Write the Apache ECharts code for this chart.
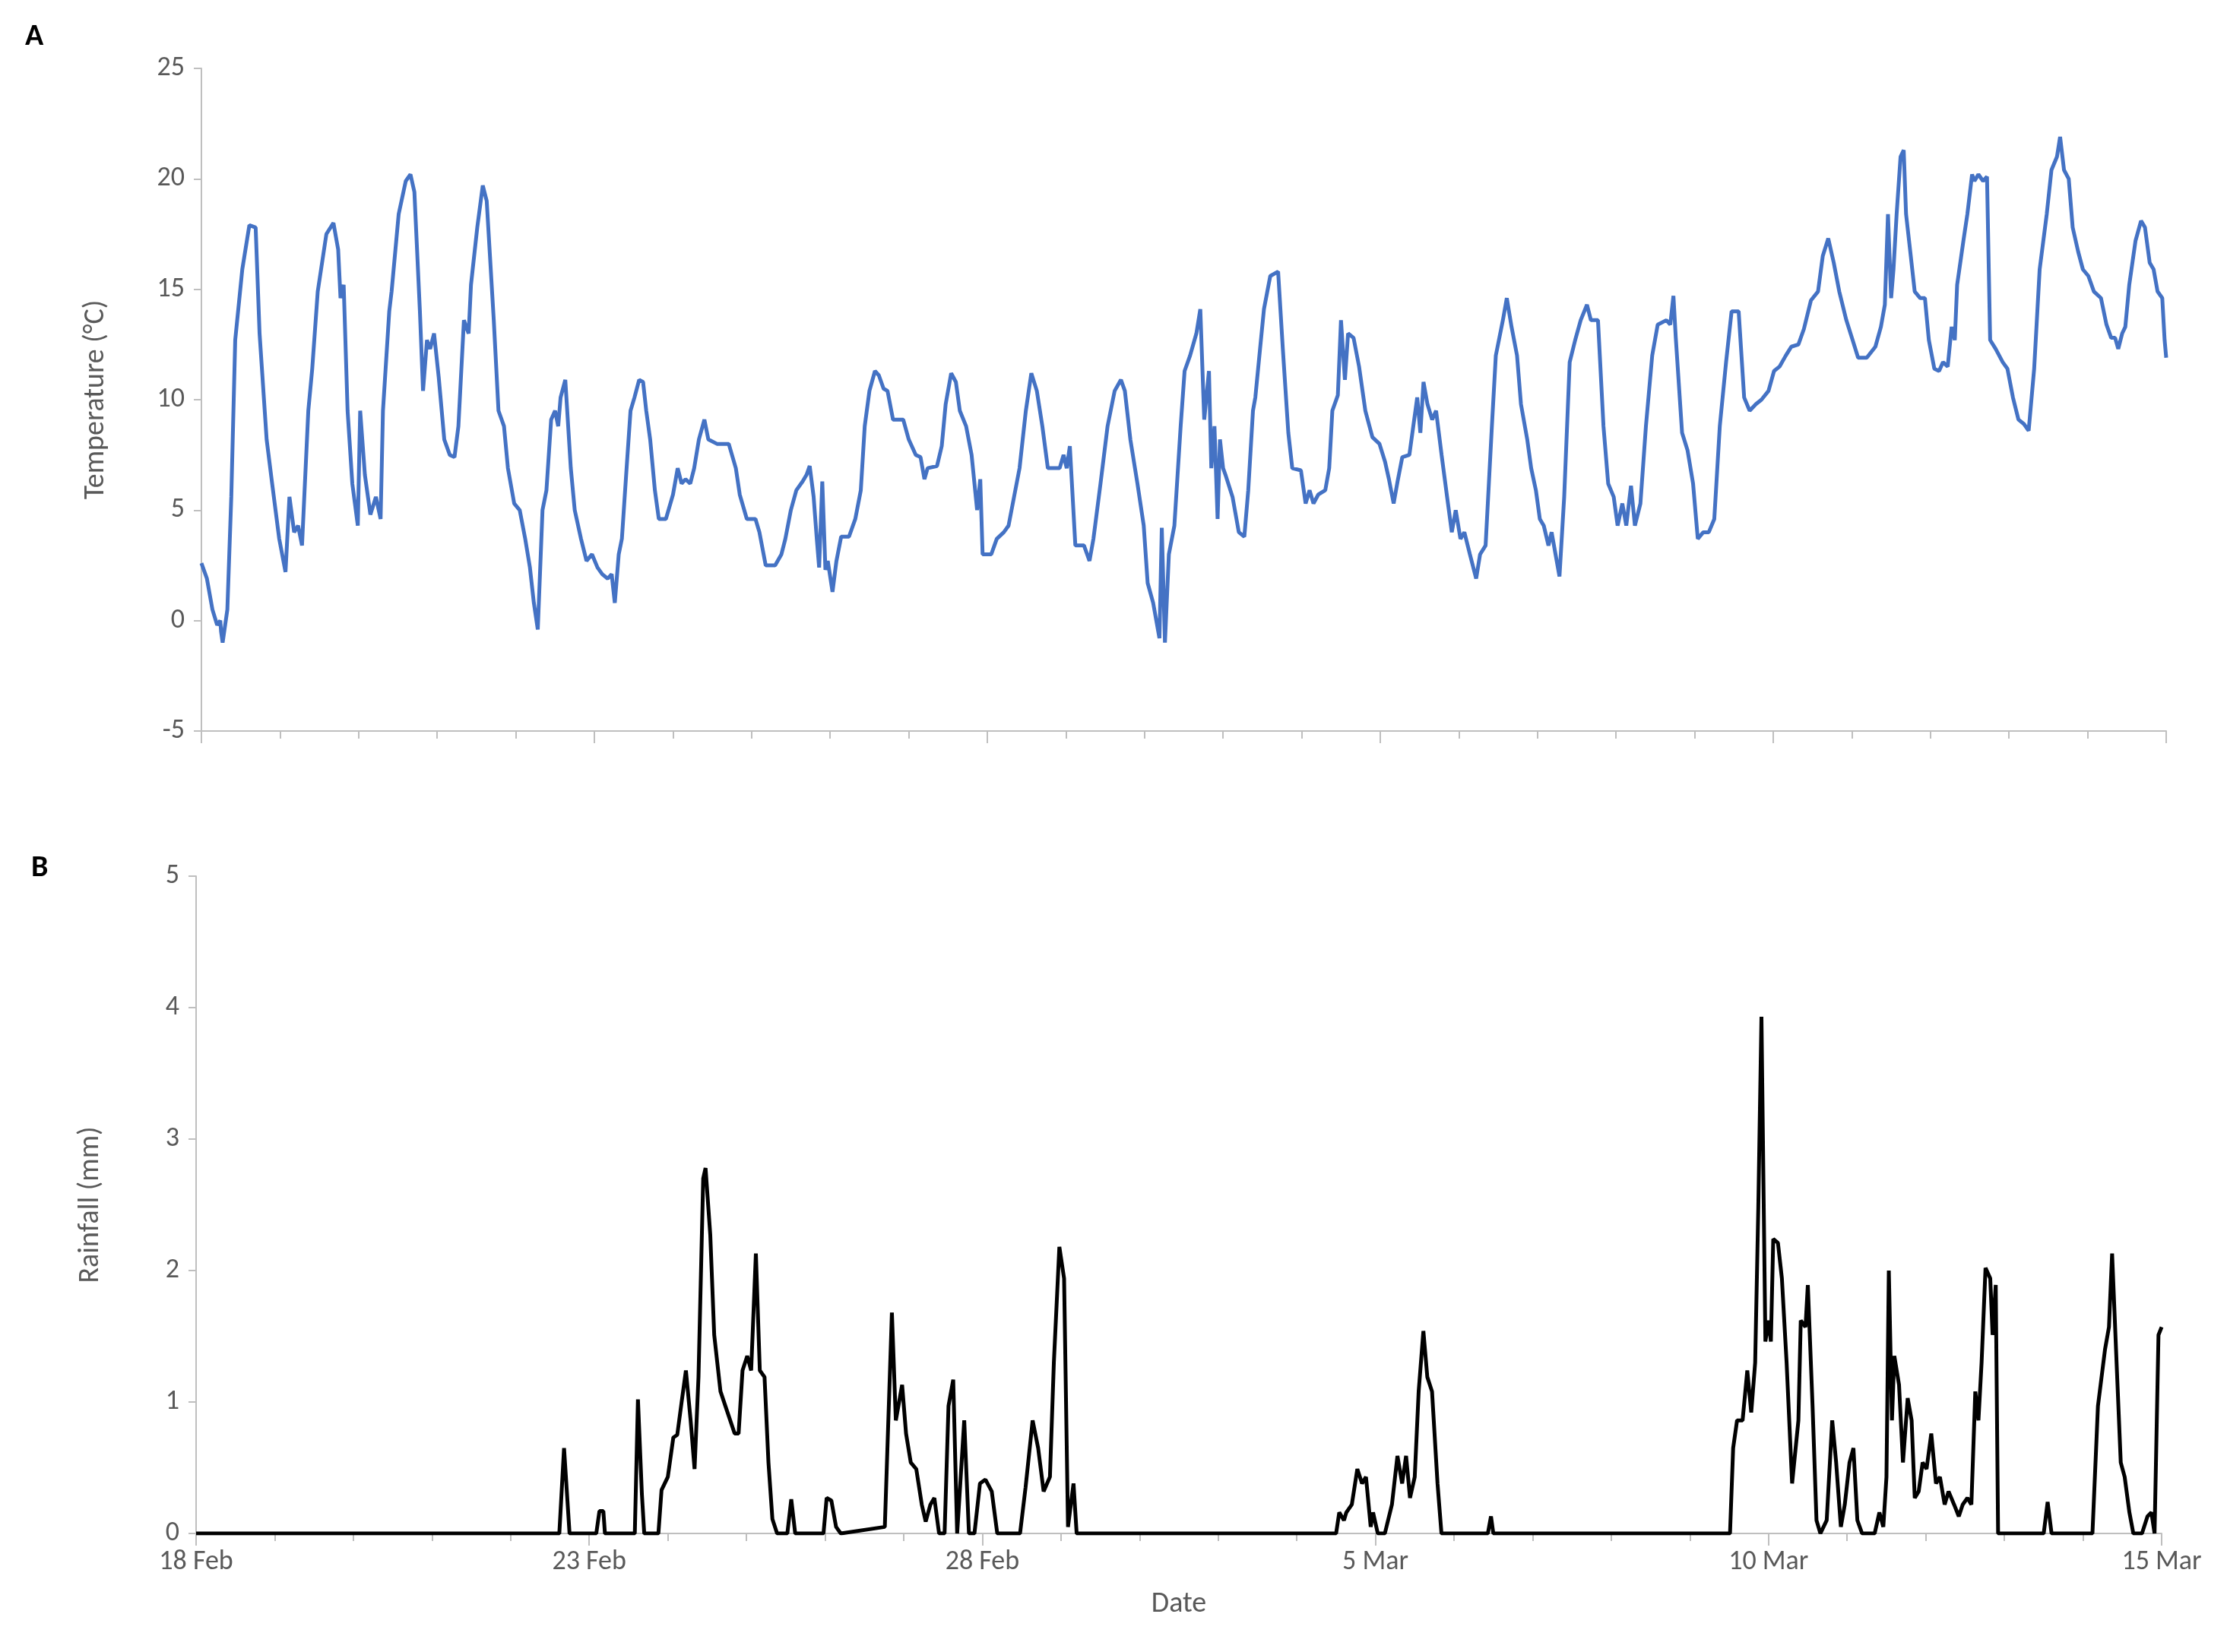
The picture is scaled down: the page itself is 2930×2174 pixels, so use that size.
<!DOCTYPE html>
<html><head><meta charset="utf-8">
<script src="https://cdn.jsdelivr.net/npm/echarts@6/dist/echarts.min.js"></script>
<style>html,body{margin:0;padding:0;background:#fff}#c{width:2930px;height:2174px}</style>
</head><body><div id="c"></div>
<script>
// x = days since 18 Feb
const dateLabels = ['18 Feb','23 Feb','28 Feb','5 Mar','10 Mar','15 Mar'];
const temperature = [
[0,2.6],[0.07,1.9],[0.14,0.5],[0.2,-0.2],[0.24,0],[0.25,-0.5],[0.27,-1],[0.33,0.5],[0.38,5.6],[0.43,12.7],[0.52,15.9],[0.61,17.9],[0.69,17.8],[0.74,13],[0.83,8.2],[0.9,6.2],[0.99,3.7],[1.07,2.2],[1.12,5.6],[1.18,4.0],[1.23,4.3],[1.28,3.4],[1.36,9.5],[1.41,11.4],[1.48,14.9],[1.59,17.5],[1.68,18],[1.74,16.8],[1.77,14.6],[1.81,15.2],[1.86,9.5],[1.92,6.2],[1.99,4.3],[2.02,9.5],[2.08,6.6],[2.15,4.8],[2.22,5.6],[2.28,4.6],[2.31,9.5],[2.39,14],[2.42,14.9],[2.51,18.4],[2.6,19.9],[2.66,20.2],[2.71,19.4],[2.78,14],[2.82,10.4],[2.87,12.7],[2.91,12.3],[2.96,13],[3.02,11],[3.09,8.2],[3.16,7.5],[3.22,7.4],[3.27,8.8],[3.34,13.6],[3.4,13],[3.43,15.2],[3.51,17.8],[3.58,19.7],[3.63,19],[3.72,13.6],[3.78,9.5],[3.85,8.8],[3.9,6.9],[3.98,5.3],[4.05,5.0],[4.12,3.7],[4.18,2.4],[4.23,0.8],[4.28,-0.4],[4.34,5],[4.39,5.9],[4.45,9.1],[4.5,9.5],[4.54,8.8],[4.57,10.1],[4.63,10.9],[4.7,6.9],[4.75,5],[4.83,3.7],[4.9,2.7],[4.97,3],[5.04,2.4],[5.1,2.1],[5.17,1.9],[5.22,2.1],[5.26,0.8],[5.31,3],[5.35,3.7],[5.41,6.9],[5.46,9.5],[5.51,10.1],[5.57,10.9],[5.62,10.8],[5.66,9.5],[5.71,8.2],[5.77,5.9],[5.82,4.6],[5.91,4.6],[6.0,5.7],[6.06,6.9],[6.11,6.2],[6.16,6.4],[6.22,6.2],[6.27,6.9],[6.33,8.2],[6.4,9.1],[6.45,8.2],[6.56,8.0],[6.71,8],[6.8,6.9],[6.85,5.7],[6.94,4.6],[7.05,4.6],[7.1,4],[7.18,2.5],[7.3,2.5],[7.38,3],[7.43,3.7],[7.5,5],[7.57,5.9],[7.65,6.3],[7.7,6.6],[7.74,7],[7.79,5.6],[7.83,3.7],[7.86,2.4],[7.9,6.3],[7.94,2.3],[7.97,2.7],[8.03,1.3],[8.08,2.7],[8.14,3.8],[8.24,3.8],[8.32,4.6],[8.39,5.9],[8.44,8.8],[8.5,10.4],[8.57,11.3],[8.62,11.1],[8.68,10.5],[8.73,10.4],[8.8,9.1],[8.93,9.1],[9.0,8.2],[9.09,7.5],[9.15,7.4],[9.2,6.4],[9.24,6.9],[9.36,7],[9.42,7.9],[9.47,9.8],[9.54,11.2],[9.6,10.8],[9.65,9.5],[9.73,8.8],[9.8,7.5],[9.87,5],[9.91,6.4],[9.94,3],[10.05,3],[10.12,3.7],[10.21,4],[10.27,4.3],[10.34,5.6],[10.41,6.9],[10.49,9.5],[10.56,11.2],[10.63,10.4],[10.7,8.8],[10.77,6.9],[10.92,6.9],[10.97,7.5],[11.01,6.9],[11.05,7.9],[11.12,3.4],[11.23,3.4],[11.3,2.7],[11.35,3.7],[11.44,6.2],[11.53,8.8],[11.62,10.4],[11.7,10.9],[11.75,10.4],[11.82,8.2],[11.91,6.2],[11.99,4.3],[12.04,1.7],[12.11,0.8],[12.19,-0.8],[12.22,4.2],[12.26,-1],[12.31,3],[12.38,4.3],[12.46,8.8],[12.51,11.3],[12.58,12],[12.66,13],[12.71,14.1],[12.76,9.1],[12.82,11.3],[12.85,6.9],[12.89,8.8],[12.93,4.6],[12.96,8.2],[13.0,6.9],[13.03,6.6],[13.12,5.6],[13.2,4],[13.27,3.8],[13.32,5.9],[13.38,9.5],[13.41,10.1],[13.47,12.3],[13.52,14.1],[13.6,15.6],[13.7,15.8],[13.76,12.3],[13.83,8.5],[13.88,6.9],[13.99,6.8],[14.05,5.3],[14.1,5.9],[14.15,5.3],[14.21,5.7],[14.3,5.9],[14.35,6.9],[14.39,9.5],[14.46,10.2],[14.5,13.6],[14.55,10.9],[14.59,13],[14.66,12.8],[14.73,11.5],[14.81,9.5],[14.9,8.3],[14.99,8],[15.06,7.2],[15.11,6.4],[15.17,5.3],[15.22,6.3],[15.28,7.4],[15.37,7.5],[15.42,8.8],[15.47,10.1],[15.51,8.5],[15.55,10.8],[15.6,9.8],[15.66,9.1],[15.71,9.5],[15.78,7.5],[15.85,5.6],[15.91,4],[15.96,5],[16.02,3.7],[16.07,4],[16.14,3],[16.22,1.9],[16.27,3],[16.34,3.4],[16.42,8.8],[16.47,12],[16.56,13.6],[16.61,14.6],[16.67,13.3],[16.74,12],[16.79,9.8],[16.87,8.2],[16.92,6.9],[16.98,5.9],[17.03,4.6],[17.08,4.3],[17.14,3.4],[17.18,4],[17.23,3],[17.28,2],[17.34,5.6],[17.41,11.7],[17.48,12.7],[17.55,13.6],[17.63,14.3],[17.68,13.6],[17.77,13.6],[17.84,8.8],[17.9,6.2],[17.97,5.6],[18.02,4.3],[18.08,5.3],[18.13,4.3],[18.19,6.1],[18.24,4.3],[18.31,5.3],[18.38,8.8],[18.46,12],[18.53,13.4],[18.64,13.6],[18.69,13.4],[18.73,14.7],[18.76,12.8],[18.84,8.5],[18.91,7.7],[18.98,6.2],[19.04,3.7],[19.11,4],[19.18,4],[19.25,4.6],[19.32,8.8],[19.4,11.7],[19.47,14],[19.56,14],[19.63,10.1],[19.7,9.5],[19.78,9.8],[19.85,10],[19.94,10.4],[20.01,11.3],[20.08,11.5],[20.16,12],[20.23,12.4],[20.32,12.5],[20.39,13.2],[20.48,14.5],[20.57,14.9],[20.63,16.5],[20.7,17.3],[20.77,16.2],[20.84,14.9],[20.93,13.6],[21.01,12.7],[21.08,11.9],[21.19,11.9],[21.3,12.4],[21.37,13.3],[21.42,14.3],[21.46,18.4],[21.5,14.6],[21.53,15.9],[21.57,18.4],[21.62,21],[21.66,21.3],[21.69,18.4],[21.75,16.5],[21.8,14.9],[21.87,14.6],[21.93,14.6],[21.98,12.7],[22.05,11.4],[22.11,11.3],[22.16,11.7],[22.22,11.5],[22.27,13.3],[22.31,12.7],[22.34,15.2],[22.42,17.2],[22.47,18.4],[22.53,20.2],[22.56,19.9],[22.61,20.2],[22.67,19.9],[22.72,20.1],[22.76,12.7],[22.83,12.3],[22.92,11.7],[22.98,11.4],[23.05,10.1],[23.12,9.1],[23.19,8.9],[23.25,8.6],[23.32,11.4],[23.39,15.9],[23.48,18.4],[23.54,20.4],[23.61,21],[23.65,21.9],[23.7,20.4],[23.76,20],[23.81,17.8],[23.88,16.7],[23.94,15.9],[24.01,15.6],[24.08,14.9],[24.17,14.6],[24.24,13.4],[24.3,12.8],[24.35,12.8],[24.39,12.3],[24.44,13],[24.48,13.3],[24.53,15.2],[24.61,17.2],[24.68,18.1],[24.73,17.8],[24.79,16.2],[24.84,15.9],[24.89,14.9],[24.95,14.6],[24.98,12.7],[25.0,11.9]
];
const rainfall = [
[0,0],[4.62,0],[4.68,0.65],[4.75,0],[5.09,0],[5.13,0.17],[5.18,0.17],[5.2,0],[5.58,0],[5.62,1.02],[5.67,0.3],[5.7,0],[5.88,0],[5.92,0.33],[6.0,0.43],[6.07,0.73],[6.12,0.75],[6.18,1.02],[6.23,1.24],[6.29,0.86],[6.34,0.49],[6.39,1.19],[6.45,2.7],[6.48,2.78],[6.54,2.27],[6.59,1.51],[6.67,1.08],[6.76,0.92],[6.85,0.76],[6.9,0.76],[6.95,1.24],[7.01,1.35],[7.06,1.24],[7.12,2.13],[7.17,1.24],[7.23,1.19],[7.28,0.54],[7.33,0.11],[7.39,0],[7.52,0],[7.57,0.26],[7.62,0],[7.98,0],[8.02,0.27],[8.08,0.25],[8.14,0.05],[8.2,0],[8.76,0.05],[8.85,1.68],[8.9,0.86],[8.98,1.13],[9.03,0.76],[9.09,0.54],[9.16,0.49],[9.23,0.22],[9.28,0.09],[9.34,0.22],[9.39,0.27],[9.45,0],[9.52,0],[9.57,0.97],[9.63,1.17],[9.68,0],[9.77,0.86],[9.83,0],[9.9,0],[9.97,0.38],[10.04,0.41],[10.12,0.32],[10.19,0],[10.48,0],[10.55,0.35],[10.64,0.86],[10.71,0.65],[10.78,0.32],[10.86,0.43],[10.91,1.3],[10.98,2.18],[11.04,1.94],[11.09,0.05],[11.16,0.38],[11.2,0],[14.5,0],[14.54,0.16],[14.6,0.1],[14.63,0.16],[14.7,0.22],[14.77,0.49],[14.83,0.38],[14.88,0.43],[14.94,0.05],[14.97,0.16],[15.03,0],[15.12,0],[15.21,0.22],[15.28,0.59],[15.34,0.38],[15.39,0.59],[15.44,0.27],[15.5,0.43],[15.55,1.08],[15.61,1.54],[15.66,1.19],[15.72,1.08],[15.79,0.38],[15.84,0],[16.43,0],[16.47,0.13],[16.5,0],[19.51,0],[19.55,0.65],[19.6,0.86],[19.67,0.86],[19.73,1.24],[19.78,0.92],[19.83,1.3],[19.87,2.48],[19.91,3.93],[19.96,1.46],[20.0,1.62],[20.03,1.46],[20.06,2.24],[20.12,2.21],[20.17,1.94],[20.23,1.3],[20.3,0.38],[20.38,0.86],[20.41,1.62],[20.47,1.57],[20.5,1.89],[20.56,0.97],[20.61,0.1],[20.66,0],[20.74,0.1],[20.81,0.86],[20.86,0.54],[20.92,0.05],[20.97,0.22],[21.03,0.54],[21.08,0.65],[21.13,0.1],[21.19,0],[21.35,0],[21.41,0.16],[21.46,0.05],[21.5,0.43],[21.53,2.0],[21.57,0.86],[21.6,1.35],[21.66,1.13],[21.71,0.54],[21.77,1.03],[21.82,0.86],[21.86,0.27],[21.91,0.32],[21.96,0.54],[22.01,0.49],[22.07,0.76],[22.13,0.38],[22.18,0.43],[22.24,0.22],[22.29,0.32],[22.36,0.22],[22.42,0.13],[22.47,0.22],[22.53,0.27],[22.58,0.22],[22.63,1.08],[22.67,0.86],[22.71,1.3],[22.76,2.02],[22.82,1.94],[22.85,1.51],[22.89,1.89],[22.92,0],[23.5,0],[23.55,0.24],[23.6,0],[24.12,0],[24.19,0.97],[24.28,1.4],[24.33,1.57],[24.37,2.13],[24.42,1.4],[24.48,0.54],[24.53,0.43],[24.59,0.16],[24.64,0],[24.75,0],[24.82,0.13],[24.87,0.16],[24.91,0],[24.96,1.51],[25.0,1.57]
];
const tempTicks = {min:-5,max:25,interval:5};
const rainTicks = {min:0,max:5,interval:1};

const gray='#595959', axisGray='#bfbfbf', FONT='Calibri, Carlito, "Liberation Sans", "Open Sans", sans-serif';
function xAxis(idx, showLabels){
  return {type:'value', gridIndex:idx, min:0, max:25, interval:5,
    axisLine:{show:true,onZero:false,lineStyle:{color:axisGray,width:2}},
    axisTick:{show:true,length:16,lineStyle:{color:axisGray,width:2}},
    minorTick:{show:true,splitNumber:5,length:10,lineStyle:{color:axisGray,width:2}},
    splitLine:{show:false},
    axisLabel:{show:showLabels,color:gray,fontSize:36,fontFamily:FONT,margin:20,
      formatter:v=>dateLabels[Math.round(v/5)]||''},
    name:showLabels?'Date':'', nameLocation:'middle', nameGap:74,
    nameTextStyle:{color:gray,fontSize:38,fontFamily:FONT}};
}
function yAxis(idx,t,name){
  return {type:'value', gridIndex:idx, min:t.min, max:t.max, interval:t.interval,
    axisLine:{show:true,lineStyle:{color:axisGray,width:2}},
    axisTick:{show:true,length:10,lineStyle:{color:axisGray,width:2}},
    splitLine:{show:false},
    axisLabel:{color:gray,fontSize:36,fontFamily:FONT,margin:22},
    name:name, nameLocation:'middle', nameGap:120,
    nameTextStyle:{color:gray,fontSize:38,fontFamily:FONT}};
}
const chart=echarts.init(document.getElementById('c'));
chart.setOption({
  animation:false, backgroundColor:'#fff',
  title:[{text:'A',left:28,top:24,textStyle:{fontSize:40,fontWeight:'bold',color:'#000',fontFamily:FONT}},
         {text:'B',left:36,top:1118,textStyle:{fontSize:40,fontWeight:'bold',color:'#000',fontFamily:FONT}}],
  grid:[{left:265,right:80,top:90,height:872},{left:258,right:86,top:1153,height:865}],
  xAxis:[xAxis(0,false),xAxis(1,true)],
  yAxis:[yAxis(0,tempTicks,'Temperature (°C)'),yAxis(1,rainTicks,'Rainfall (mm)')],
  series:[
    {type:'line',xAxisIndex:0,yAxisIndex:0,data:temperature,showSymbol:false,lineStyle:{color:'#4472C4',width:5},itemStyle:{color:'#4472C4'}},
    {type:'line',xAxisIndex:1,yAxisIndex:1,data:rainfall,showSymbol:false,lineStyle:{color:'#000',width:5},itemStyle:{color:'#000'}}
  ]
});
</script></body></html>
